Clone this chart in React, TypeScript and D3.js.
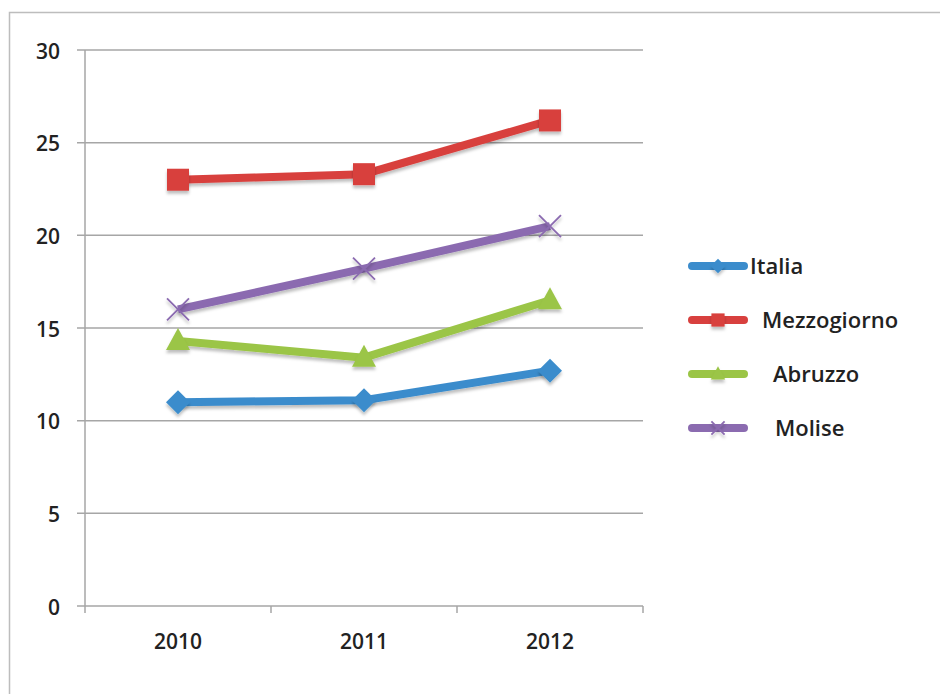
import { useEffect, useRef } from "react";
import * as d3 from "d3";

// Chart data
const years = ["2010", "2011", "2012"];
const italia = [11.0, 11.1, 12.7];
const mezzogiorno = [23.0, 23.3, 26.2];
const abruzzo = [14.3, 13.4, 16.5];
const molise = [16.0, 18.2, 20.5];
const yTicks = [0, 5, 10, 15, 20, 25, 30];

const seriesNames = ["Italia", "Mezzogiorno", "Abruzzo", "Molise"];
const seriesValues = [italia, mezzogiorno, abruzzo, molise];
const seriesColors = ["#3b8ccc", "#d8403e", "#9bc546", "#8b6bb0"];
const seriesMarkers = ["diamond", "square", "triangle", "cross"];
// the legend labels are not aligned in the original
const legendTextX = [750, 762, 773, 775];

export default function App() {
  const ref = useRef<SVGSVGElement>(null);

  useEffect(() => {
    if (!ref.current) return;
    const svg = d3.select(ref.current);
    svg.selectAll("*").remove();

    const font = "'Open Sans', 'Liberation Sans', sans-serif";

    // drop shadow for markers
    const defs = svg.append("defs");
    defs.append("filter")
      .attr("id", "shadow")
      .attr("x", "-50%").attr("y", "-50%").attr("width", "200%").attr("height", "200%")
      .append("feDropShadow")
      .attr("dx", 0).attr("dy", 3).attr("stdDeviation", 1.5)
      .attr("flood-color", "#000").attr("flood-opacity", 0.25);

    // outer frame
    svg.append("rect")
      .attr("x", 9.5).attr("y", 12.5)
      .attr("width", 960).attr("height", 720)
      .attr("fill", "white").attr("stroke", "#bdbdbd").attr("stroke-width", 1.5);

    const x = d3.scaleBand().domain(years).range([85, 643]);
    const y = d3.scaleLinear().domain([0, 30]).range([606, 50]);

    // grid lines + y ticks
    const grid = svg.append("g");
    yTicks.forEach(t => {
      grid.append("line")
        .attr("x1", 77).attr("x2", 643)
        .attr("y1", y(t)).attr("y2", y(t))
        .attr("stroke", "#a6a6a6").attr("stroke-width", 1.5);
      grid.append("text")
        .attr("x", 60).attr("y", y(t) + 1)
        .attr("dy", "0.36em")
        .attr("text-anchor", "end")
        .attr("font-family", font).attr("font-size", 21).attr("font-weight", 600)
        .attr("fill", "#222")
        .text(t);
    });

    // y axis line
    svg.append("line")
      .attr("x1", 85).attr("x2", 85).attr("y1", 50).attr("y2", 606)
      .attr("stroke", "#a6a6a6").attr("stroke-width", 1.5);

    // x axis tick marks at band boundaries
    const bounds = [...years.map(d => x(d) as number), 643];
    bounds.forEach(b => {
      svg.append("line")
        .attr("x1", b).attr("x2", b).attr("y1", 606).attr("y2", 613)
        .attr("stroke", "#a6a6a6").attr("stroke-width", 1.5);
    });

    // x labels
    years.forEach(yr => {
      svg.append("text")
        .attr("x", (x(yr) as number) + x.bandwidth() / 2)
        .attr("y", 641).attr("dy", "0.36em")
        .attr("text-anchor", "middle")
        .attr("font-family", font).attr("font-size", 21).attr("font-weight", 600)
        .attr("fill", "#222")
        .text(yr);
    });

    const cx = (yr: string) => (x(yr) as number) + x.bandwidth() / 2;

    const drawMarker = (g: any, kind: string, px: number, py: number, color: string, scale = 1) => {
      if (kind === "diamond") {
        const r = 12 * scale;
        g.append("path")
          .attr("d", `M${px},${py - r}L${px + r},${py}L${px},${py + r}L${px - r},${py}Z`)
          .attr("fill", color).attr("filter", "url(#shadow)");
      } else if (kind === "square") {
        const s = 22 * scale;
        g.append("rect")
          .attr("x", px - s / 2).attr("y", py - s / 2)
          .attr("width", s).attr("height", s)
          .attr("fill", color).attr("filter", "url(#shadow)");
      } else if (kind === "triangle") {
        const w = 12 * scale;
        g.append("path")
          .attr("d", `M${px},${py - 13 * scale}L${px + w},${py + 9 * scale}L${px - w},${py + 9 * scale}Z`)
          .attr("fill", color).attr("filter", "url(#shadow)");
      } else {
        const r = 11 * scale;
        g.append("path")
          .attr("d", `M${px - r},${py - r}L${px + r},${py + r}M${px - r},${py + r}L${px + r},${py - r}`)
          .attr("stroke", color).attr("stroke-width", 1.8).attr("fill", "none")
          .attr("filter", "url(#shadow)");
      }
    };

    const line = d3.line<[string, number]>()
      .x(d => cx(d[0]))
      .y(d => y(d[1]));

    seriesNames.forEach((name, i) => {
      const pts: [string, number][] = years.map((yr, j) => [yr, seriesValues[i][j]]);
      const g = svg.append("g");
      g.append("path")
        .attr("d", line(pts))
        .attr("fill", "none")
        .attr("stroke", seriesColors[i])
        .attr("stroke-width", 8)
        .attr("stroke-linejoin", "round")
        .attr("filter", "url(#shadow)");
      pts.forEach(p => drawMarker(g, seriesMarkers[i], cx(p[0]), y(p[1]), seriesColors[i]));
    });

    // legend
    const leg = svg.append("g");
    seriesNames.forEach((name, i) => {
      const ly = 266 + i * 54;
      leg.append("line")
        .attr("x1", 692).attr("x2", 744).attr("y1", ly).attr("y2", ly)
        .attr("stroke", seriesColors[i]).attr("stroke-width", 8)
        .attr("stroke-linecap", "round");
      drawMarker(leg, seriesMarkers[i], 718, ly, seriesColors[i], 0.6);
      leg.append("text")
        .attr("x", legendTextX[i]).attr("y", ly).attr("dy", "0.36em")
        .attr("font-family", font).attr("font-size", 22).attr("font-weight", 600)
        .attr("fill", "#222")
        .text(name);
    });
  }, []);

  return (
    <svg
      ref={ref}
      width={940}
      height={694}
      style={{ position: "absolute", left: 0, top: 0, background: "white" }}
    />
  );
}
